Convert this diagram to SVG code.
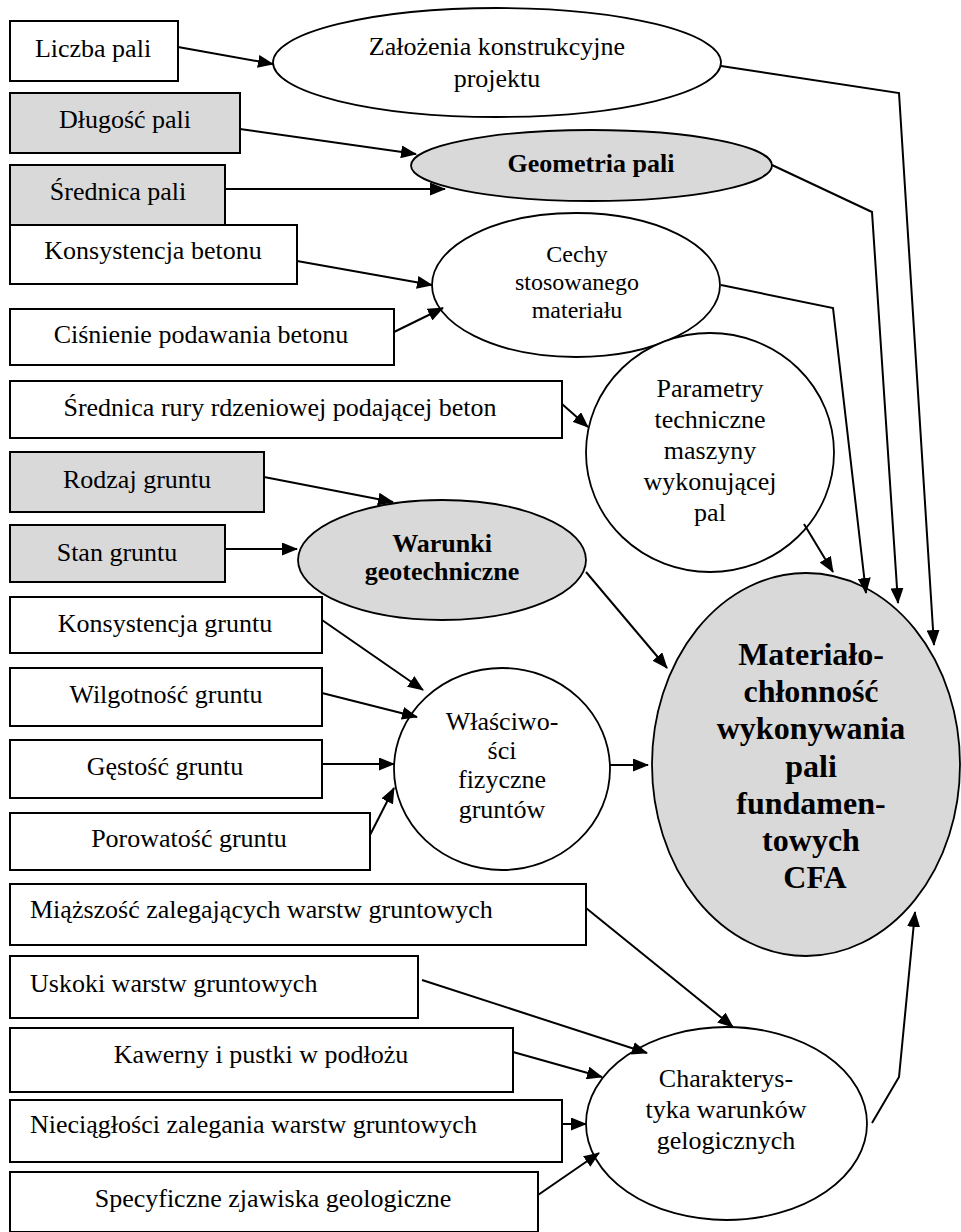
<svg xmlns="http://www.w3.org/2000/svg" width="961" height="1232" viewBox="0 0 961 1232">
<defs>
<marker id="arr" viewBox="0 0 16 13" refX="15" refY="6.5" markerWidth="16" markerHeight="13" markerUnits="userSpaceOnUse" orient="auto">
<path d="M0,0 L16,6.5 L0,13 z" fill="#000"/>
</marker>
<style>
.box{fill:#fff;stroke:#000;stroke-width:2}
.ell{fill:#fff;stroke:#000;stroke-width:1.8}
.box.gray,.ell.gray{fill:#d9d9d9}
.t{font-family:"Liberation Serif","Times New Roman",serif;font-size:26px;fill:#000}
.c{text-anchor:middle}
.b{font-weight:bold}
.s24{font-size:24px}
.big{font-size:32px;font-weight:bold}
#connectors line,#connectors polyline{stroke:#000;stroke-width:2;fill:none;marker-end:url(#arr)}
</style>
</defs>
<rect width="961" height="1232" fill="#fff"/>

<!-- Boxes -->
<g id="n-liczba"><rect class="box" x="10" y="21" width="168" height="60"/><text class="t c" x="93" y="57">Liczba pali</text></g>
<g id="n-dlugosc"><rect class="box gray" x="10" y="93" width="230" height="60"/><text class="t c" x="125" y="128">Długość pali</text></g>
<g id="n-srednica"><rect class="box gray" x="10" y="165" width="215" height="60"/><text class="t c" x="118" y="200">Średnica pali</text></g>
<g id="n-konsbet"><rect class="box" x="10" y="225" width="287" height="59"/><text class="t c" x="153" y="259">Konsystencja betonu</text></g>
<g id="n-cisn"><rect class="box" x="10" y="309" width="384" height="56"/><text class="t c" x="201" y="343">Ciśnienie podawania betonu</text></g>
<g id="n-rura"><rect class="box" x="10" y="381" width="552" height="57"/><text class="t c" x="280" y="416">Średnica rury rdzeniowej podającej beton</text></g>
<g id="n-rodzaj"><rect class="box gray" x="10" y="452" width="254" height="60"/><text class="t c" x="137" y="488">Rodzaj gruntu</text></g>
<g id="n-stan"><rect class="box gray" x="10" y="525" width="215" height="57"/><text class="t c" x="117" y="561">Stan gruntu</text></g>
<g id="n-konsgr"><rect class="box" x="10" y="597" width="312" height="56"/><text class="t c" x="165" y="632">Konsystencja gruntu</text></g>
<g id="n-wilg"><rect class="box" x="10" y="668" width="312" height="58"/><text class="t c" x="166" y="703">Wilgotność gruntu</text></g>
<g id="n-gest"><rect class="box" x="10" y="740" width="312" height="58"/><text class="t c" x="165" y="775">Gęstość gruntu</text></g>
<g id="n-porow"><rect class="box" x="10" y="813" width="360" height="57"/><text class="t c" x="189" y="847">Porowatość gruntu</text></g>
<g id="n-miazsz"><rect class="box" x="10" y="884" width="576" height="61"/><text class="t" x="30" y="918">Miąższość zalegających warstw gruntowych</text></g>
<g id="n-uskoki"><rect class="box" x="10" y="956" width="408" height="62"/><text class="t" x="30" y="992">Uskoki warstw gruntowych</text></g>
<g id="n-kawerny"><rect class="box" x="10" y="1028" width="503" height="64"/><text class="t c" x="261" y="1063">Kawerny i pustki w podłożu</text></g>
<g id="n-nieciag"><rect class="box" x="10" y="1100" width="552" height="62"/><text class="t" x="30" y="1133">Nieciągłości zalegania warstw gruntowych</text></g>
<g id="n-specyf"><rect class="box" x="10" y="1172" width="528" height="60"/><text class="t c" x="273" y="1207">Specyficzne zjawiska geologiczne</text></g>

<!-- Ellipses -->
<g id="n-zalozenia"><ellipse class="ell" cx="497" cy="62.5" rx="224" ry="54.5"/><text class="t c" x="497" y="55">Założenia konstrukcyjne</text><text class="t c" x="497" y="87">projektu</text></g>
<g id="n-geometria"><ellipse class="ell gray" cx="591.5" cy="165.5" rx="180.5" ry="35.5"/><text class="t c b" x="591" y="172">Geometria pali</text></g>
<g id="n-cechy"><ellipse class="ell" cx="576" cy="285" rx="144" ry="72"/><text class="t c s24" x="577" y="262">Cechy</text><text class="t c s24" x="577" y="290">stosowanego</text><text class="t c s24" x="577" y="318">materiału</text></g>
<g id="n-parametry"><ellipse class="ell" cx="710" cy="452.5" rx="124" ry="119.5"/><text class="t c" x="710" y="397">Parametry</text><text class="t c" x="710" y="428">techniczne</text><text class="t c" x="710" y="459">maszyny</text><text class="t c" x="710" y="490">wykonującej</text><text class="t c" x="710" y="521">pal</text></g>
<g id="n-warunki"><ellipse class="ell gray" cx="442" cy="560" rx="144" ry="60"/><text class="t c b" x="442" y="552">Warunki</text><text class="t c b" x="442" y="580">geotechniczne</text></g>
<g id="n-wlasc"><ellipse class="ell" cx="502" cy="769" rx="108" ry="101"/><text class="t c" x="502" y="730">Właściwo-</text><text class="t c" x="502" y="759">ści</text><text class="t c" x="502" y="788">fizyczne</text><text class="t c" x="502" y="818">gruntów</text></g>
<g id="n-mat"><ellipse class="ell gray" cx="806" cy="764.5" rx="154" ry="191.5"/>
<text class="t c big" x="811" y="665">Materiało-</text><text class="t c big" x="811" y="702">chłonność</text><text class="t c big" x="811" y="739">wykonywania</text><text class="t c big" x="811" y="777">pali</text><text class="t c big" x="811" y="814">fundamen-</text><text class="t c big" x="811" y="851">towych</text><text class="t c big" x="815" y="888">CFA</text></g>
<g id="n-charakt"><ellipse class="ell" cx="726.5" cy="1123.5" rx="140.5" ry="96.5"/><text class="t c" x="726" y="1087">Charakterys-</text><text class="t c" x="726" y="1118">tyka warunków</text><text class="t c" x="726" y="1149">gelogicznych</text></g>

<!-- Connectors -->
<g id="connectors">
<line x1="178" y1="47" x2="273" y2="64"/>
<line x1="240" y1="129" x2="416" y2="154"/>
<line x1="225" y1="189" x2="445" y2="189"/>
<line x1="297" y1="261" x2="432" y2="285"/>
<line x1="394" y1="332" x2="443" y2="308"/>
<polyline points="721,66 899,93 934,645"/>
<polyline points="772,165 872,212 898,603"/>
<polyline points="721,285 833,308 866,593"/>
<line x1="562" y1="404" x2="588" y2="427"/>
<line x1="804" y1="524" x2="833" y2="572"/>
<line x1="264" y1="477" x2="393" y2="502"/>
<line x1="225" y1="549" x2="297" y2="549"/>
<line x1="586" y1="572" x2="667" y2="668"/>
<line x1="322" y1="620" x2="423" y2="690"/>
<line x1="322" y1="693" x2="417" y2="717"/>
<line x1="322" y1="764" x2="394" y2="764"/>
<line x1="370" y1="835" x2="394" y2="788"/>
<line x1="610" y1="765" x2="648" y2="765"/>
<line x1="586" y1="908" x2="733" y2="1027"/>
<line x1="422" y1="980" x2="647" y2="1053"/>
<line x1="513" y1="1052" x2="602" y2="1077"/>
<line x1="562" y1="1124" x2="586" y2="1124"/>
<line x1="538" y1="1195" x2="599" y2="1153"/>
<polyline points="872,1123 899,1077 915,912"/>
</g>
</svg>
